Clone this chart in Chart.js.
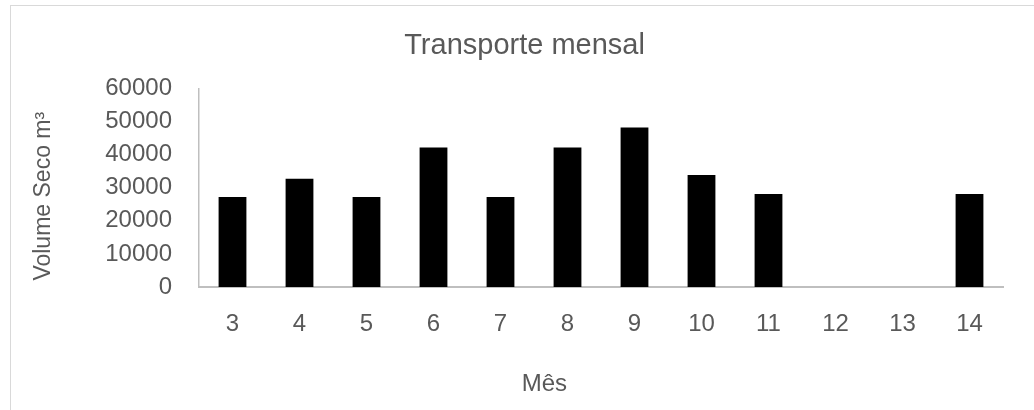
<!DOCTYPE html>
<html>
<head>
<meta charset="utf-8">
<script src="https://cdn.jsdelivr.net/npm/chart.js@4/dist/chart.umd.min.js"></script>
<style>
  html, body { margin: 0; padding: 0; background: #fff; }
  #wrap { position: relative; width: 1034px; height: 410px; overflow: hidden; }
  #frame { position: absolute; left: 10px; top: 5px; width: 1100px; height: 460px; border: 1.5px solid #d9d9d9; box-sizing: border-box; }
  canvas { position: absolute; left: 0; top: 0; }
</style>
</head>
<body>
<div id="wrap">
  <div id="frame"></div>
  <canvas id="chart" width="1034" height="410"></canvas>
</div>
<script>
// meses e volumes
const meses   = ['3', '4', '5', '6', '7', '8', '9', '10', '11', '12', '13', '14']
const volumes = [27200, 32750, 27200, 42200, 27200, 42200, 48200, 33900, 28100, 0, 0, 28100]
const yTicks  = [0, 10000, 20000, 30000, 40000, 50000, 60000]

const fonte = '"Liberation Sans", Arial, sans-serif'
const cinza = '#595959'

const setup = {
      type: 'bar',
      data: {
        labels: meses,
        datasets: [{
              label: 'Volume',
              data: volumes,
              backgroundColor: '#000000',
              borderWidth: 0,
              barPercentage: 0.415,
              categoryPercentage: 1
        }]
      },
      options: {
            responsive: false,
            animation: false,
            layout: { padding: { left: 30, right: 31, top: 0, bottom: 11 } },
            plugins: {
                  legend: { display: false },
                  tooltip: { enabled: false },
                  title: {
                        display: true,
                        text: '\u00a0\u00a0Transporte mensal',
                        color: cinza,
                        font: { family: fonte, size: 29, weight: 'normal' },
                        padding: { top: 28.6, bottom: 25.2 }
                  }
            },
            scales: {
                  x: {
                        grid: { display: false, drawTicks: false },
                        border: { display: true, color: '#bfbfbf', width: 2 },
                        ticks: { color: cinza, font: { family: fonte, size: 24 }, padding: 23, maxRotation: 0 },
                        // o titulo do eixo fica deslocado para a esquerda no original
                        title: { display: true, text: 'Mês' + '\u00a0'.repeat(17), color: cinza, font: { family: fonte, size: 24 }, padding: 0 },
                        afterFit: (scale) => { scale.height = 112 }
                  },
                  y: {
                        min: 0,
                        max: 60000,
                        afterBuildTicks: (scale) => { scale.ticks = yTicks.map(v => ({ value: v })) },
                        grid: { display: false, drawTicks: false },
                        border: { display: true, color: '#bfbfbf', width: 1.5 },
                        ticks: { color: cinza, font: { family: fonte, size: 24 }, padding: 27, callback: (v) => String(v) },
                        title: { display: true, align: 'start', text: ' Volume Seco m³', color: cinza, font: { family: fonte, size: 23 }, padding: 0 },
                        afterFit: (scale) => { scale.width = 169 }
                  }
            }
      }
}

new Chart(document.getElementById('chart'), setup)
</script>
</body>
</html>
